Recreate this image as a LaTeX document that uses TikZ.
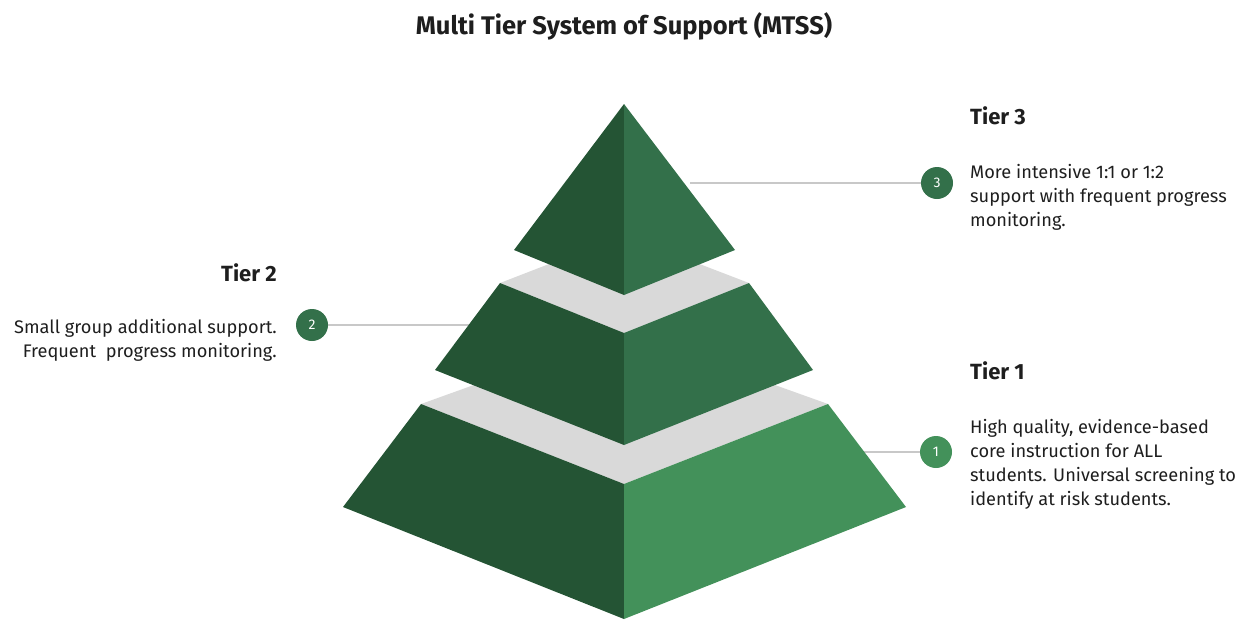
\documentclass[tikz,border=0pt]{standalone}
\usepackage{fontspec}
\setmainfont{Fira Sans}
\usepackage{xcolor}

\definecolor{leftgreen}{HTML}{245434}
\definecolor{midgreen}{HTML}{33704A}
\definecolor{lightgreen}{HTML}{43915A}
\definecolor{bandgray}{HTML}{D9D9D9}
\definecolor{rulegray}{HTML}{C8C8C8}
\definecolor{inkgray}{HTML}{1E1E1E}

\tikzset{
  badge/.style={circle, minimum size=32pt, inner sep=0pt, text=white, font=\fontsize{14}{14}\selectfont},
  heading/.style={inner sep=0pt, text=inkgray, font=\fontsize{22}{24}\selectfont\bfseries},
  blurb/.style={inner sep=0pt, text=inkgray, font=\fontsize{18.2}{24}\selectfont},
  leader/.style={draw=rulegray, line width=1.5pt}
}

\begin{document}
\begin{tikzpicture}[x=1pt, y=-1pt]
\useasboundingbox (0,0) rectangle (1248,619);

\node[anchor=base, text=inkgray, inner sep=0pt, font=\fontsize{25.5}{28}\selectfont\bfseries] (title) at (624,34) {Multi Tier System of Support (MTSS)};

\node[badge, fill=midgreen] (b3) at (937,183) {3};
\node[badge, fill=midgreen] (b2) at (312,325) {2};
\node[badge, fill=lightgreen] (b1) at (936,452) {1};
\coordinate (edge3) at (690,183);
\coordinate (edge2) at (475,325);
\coordinate (edge1) at (860,452);
\draw[leader] (edge3) -- (b3);
\draw[leader] (edge2) -- (b2);
\draw[leader] (edge1) -- (b1);

% tier 1 with its top face
\fill[bandgray] (421,404) -- (624,331) -- (828,404) -- (624,484) -- cycle;
\fill[leftgreen] (421,404) -- (624,484) -- (624,619) -- (343,507) -- cycle;
\fill[lightgreen] (624,484) -- (828,404) -- (906,507) -- (624,619) -- cycle;
% tier 2 with its top face
\fill[bandgray] (500,283) -- (624,235) -- (749,283) -- (624,333) -- cycle;
\fill[leftgreen] (500,283) -- (624,333) -- (624,445) -- (435,370) -- cycle;
\fill[midgreen] (624,333) -- (749,283) -- (813,370) -- (624,445) -- cycle;
% tier 3
\fill[leftgreen] (624,104) -- (624,295) -- (514,250) -- cycle;
\fill[midgreen] (624,104) -- (735,250) -- (624,295) -- cycle;

\node[heading, anchor=base west] (head3) at (970,124) {Tier 3};
\node[blurb, anchor=base west, align=left] (text3) at (970,226) {More intensive 1:1 or 1:2\\support with frequent progress\\monitoring.};
\node[heading, anchor=base east] (head2) at (277,281) {Tier 2};
\node[blurb, anchor=base east, align=right] (text2) at (277,357) {Small group additional support.\\Frequent\ \ progress monitoring.};
\node[heading, anchor=base west] (head1) at (970,379) {Tier 1};
\node[blurb, anchor=base west, align=left] (text1) at (970,505) {High quality, evidence-based\\core instruction for ALL\\students. Universal screening to\\identify at risk students.};
\end{tikzpicture}
\end{document}
